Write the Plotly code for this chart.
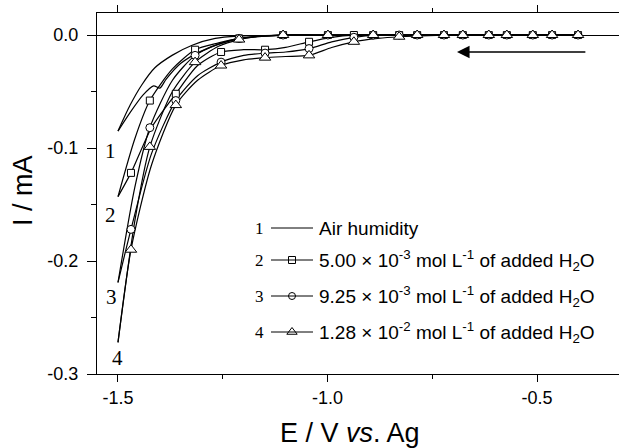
import plotly.graph_objects as go

# ---------------- data ----------------
# marker potentials (V) on cathodic (forward) and anodic (reverse) scans
MARK_FWD = [-0.464, -0.572, -0.677, -0.786, -0.891, -0.999, -1.106, -1.211, -1.316, -1.424]
MARK_REV = [-1.469, -1.362, -1.254, -1.149, -1.044, -0.937, -0.829, -0.722, -0.615, -0.510, -0.402]

# curve 1 : air humidity (no markers)
E1_FWD = [-0.400, -0.600, -0.800, -1.000, -1.100, -1.160, -1.214, -1.268, -1.323, -1.371, -1.412, -1.443, -1.471, -1.500]
I1_FWD = [0, 0, 0, 0, 0, -0.0005, -0.001, -0.003, -0.009, -0.018, -0.029, -0.044, -0.062, -0.085]
E1_REV = [-1.500, -1.470, -1.440, -1.415, -1.400, -1.385, -1.350, -1.300, -1.250, -1.200, -1.150, -1.100, -1.000, -0.800, -0.600, -0.400]
I1_REV = [-0.085, -0.068, -0.053, -0.045, -0.047, -0.039, -0.025, -0.014, -0.007, -0.003, -0.001, 0, 0, 0, 0, 0]

# curves 2-4 forward scan
E_FWD = [-0.400, -0.464, -0.572, -0.677, -0.786, -0.891, -0.999, -1.106, -1.160, -1.211, -1.260, -1.316, -1.370, -1.424, -1.460, -1.500]
I2_FWD = [0, 0, 0, 0, 0, 0, 0, 0, -0.001, -0.003, -0.007, -0.013, -0.030, -0.058, -0.092, -0.143]
I3_FWD = [0, 0, 0, 0, 0, 0, 0, 0, -0.001, -0.003, -0.008, -0.018, -0.040, -0.082, -0.135, -0.219]
I4_FWD = [0, 0, 0, 0, 0, 0, 0, 0, -0.001, -0.004, -0.010, -0.024, -0.050, -0.099, -0.165, -0.272]

# curves 2-4 reverse scan
E_REV = [-1.500, -1.469, -1.420, -1.362, -1.310, -1.254, -1.200, -1.149, -1.100, -1.044, -0.990, -0.937, -0.880, -0.829, -0.722, -0.615, -0.510, -0.402]
I2_REV = [-0.143, -0.122, -0.082, -0.052, -0.027, -0.015, -0.013, -0.013, -0.011, -0.006, -0.002, 0, 0, 0, 0, 0, 0, 0]
I3_REV = [-0.219, -0.172, -0.105, -0.058, -0.036, -0.024, -0.018, -0.016, -0.015, -0.012, -0.006, -0.002, 0, 0, 0, 0, 0, 0]
I4_REV = [-0.272, -0.190, -0.115, -0.062, -0.040, -0.027, -0.022, -0.020, -0.019, -0.018, -0.011, -0.006, -0.003, -0.0015, 0, 0, 0, 0]

CURVE_IDS = ["1", "2", "3", "4"]
LEGEND_LABELS = [
    "Air humidity",
    "5.00 × 10<sup>-3</sup> mol L<sup>-1</sup> of added H<sub>2</sub>O",
    "9.25 × 10<sup>-3</sup> mol L<sup>-1</sup> of added H<sub>2</sub>O",
    "1.28 × 10<sup>-2</sup> mol L<sup>-1</sup> of added H<sub>2</sub>O",
]
X_TITLE = "E / V <i>vs</i>. Ag"
Y_TITLE = "I / mA"
X_TICKS = [-1.5, -1.0, -0.5]
X_TICKTEXT = ["-1.5", "-1.0", "-0.5"]
Y_TICKS = [0.0, -0.1, -0.2, -0.3]
Y_TICKTEXT = ["0.0", "-0.1", "-0.2", "-0.3"]

SANS = "Liberation Sans, Arial, sans-serif"
SERIF = "Liberation Serif, Times New Roman, serif"

fig = go.Figure()

LINE = dict(color="black", width=1.2, shape="spline", smoothing=0.7)

branches = [
    (E1_FWD, I1_FWD, None, 0, []),
    (E1_REV, I1_REV, None, 0, []),
    (E_FWD, I2_FWD, "square", 7, MARK_FWD),
    (E_REV, I2_REV, "square", 7, MARK_REV),
    (E_FWD, I3_FWD, "circle", 8, MARK_FWD),
    (E_REV, I3_REV, "circle", 8, MARK_REV),
    (E_FWD, I4_FWD, "triangle-up", 10, MARK_FWD),
    (E_REV, I4_REV, "triangle-up", 10, MARK_REV),
]

for x, y, sym, sz, marks in branches:
    fig.add_trace(go.Scatter(x=x, y=y, mode="lines", line=LINE,
                             showlegend=False, hoverinfo="skip"))
for x, y, sym, sz, marks in branches:
    if sym is None:
        continue
    mx = [a for a in x if a in marks]
    my = [b for a, b in zip(x, y) if a in marks]
    fig.add_trace(go.Scatter(x=mx, y=my, mode="markers",
                             marker=dict(symbol=sym, size=sz, color="white",
                                         line=dict(color="black", width=1)),
                             showlegend=False, hoverinfo="skip"))

# ---------- legend, drawn on a pixel-like overlay axis ----------
LEG_ROWS = [228, 260, 296, 332]
LEG_SYMBOLS = [(None, 0), ("square", 7), ("circle", 7), ("triangle-up", 9)]
shapes = []
annotations = []
for row, cid, lab, (sym, sz) in zip(LEG_ROWS, CURVE_IDS, LEGEND_LABELS, LEG_SYMBOLS):
    shapes.append(dict(type="line", xref="x2", yref="y2", x0=271, x1=313, y0=row, y1=row,
                       line=dict(color="black", width=1)))
    annotations.append(dict(xref="x2", yref="y2", x=259, y=row, text=cid, showarrow=False,
                            xanchor="center", yanchor="middle",
                            font=dict(family=SERIF, size=17, color="black")))
    annotations.append(dict(xref="x2", yref="y2", x=317, y=row, text=lab, showarrow=False,
                            xanchor="left", yanchor="middle",
                            font=dict(family=SANS, size=19, color="black")))
    if sym:
        fig.add_trace(go.Scatter(x=[292], y=[row], xaxis="x2", yaxis="y2", mode="markers",
                                 marker=dict(symbol=sym, size=sz, color="white",
                                             line=dict(color="black", width=1)),
                                 showlegend=False, hoverinfo="skip"))

# curve numbers near the switching potential
CURVE_LABEL_POS = [(110, 151), (110, 215), (111, 297), (117, 358)]
for (px, py), cid in zip(CURVE_LABEL_POS, CURVE_IDS):
    annotations.append(dict(xref="x2", yref="y2", x=px, y=py, text=cid, showarrow=False,
                            xanchor="center", yanchor="middle",
                            font=dict(family=SERIF, size=21, color="black")))

# axis titles (paper coordinates, may lie outside the plot area)
def px_to_paper(px, py):
    return (px - 97) / 522.0, (374 - py) / 361.0

tx, ty = px_to_paper(350, 433)
annotations.append(dict(xref="paper", yref="paper", x=tx, y=ty, text=X_TITLE,
                        showarrow=False, xanchor="center", yanchor="middle",
                        font=dict(family=SANS, size=27, color="black")))
tx, ty = px_to_paper(23, 191)
annotations.append(dict(xref="paper", yref="paper", x=tx, y=ty, text=Y_TITLE, textangle=-90,
                        showarrow=False, xanchor="center", yanchor="middle",
                        font=dict(family=SANS, size=27, color="black")))

# scan direction arrow
annotations.append(dict(x=-0.691, y=-0.015, ax=-0.381, ay=-0.015, xref="x", yref="y",
                        axref="x", ayref="y", text="", showarrow=True, arrowhead=2,
                        arrowsize=1.8, arrowwidth=1.4, arrowcolor="black"))

fig.update_layout(
    width=619, height=448,
    margin=dict(l=97, r=0, t=13, b=74),
    paper_bgcolor="white", plot_bgcolor="white",
    showlegend=False,
    shapes=shapes, annotations=annotations,
    xaxis=dict(range=[-1.5501, -0.3043], tickvals=X_TICKS, ticktext=X_TICKTEXT,
               ticks="outside", ticklen=7, tickwidth=1, tickcolor="black",
               showline=True, linecolor="black", linewidth=1, mirror="ticks",
               showgrid=False, zeroline=False,
               minor=dict(tickvals=[-1.25, -0.75], ticks="outside", ticklen=4,
                          tickcolor="black", tickwidth=1, showgrid=False),
               tickfont=dict(family=SANS, size=18, color="black")),
    yaxis=dict(range=[-0.3, 0.0195], tickvals=Y_TICKS, ticktext=Y_TICKTEXT,
               ticks="outside", ticklen=9, tickwidth=1, tickcolor="black",
               showline=True, linecolor="black", linewidth=1, mirror=False,
               showgrid=False, zeroline=True, zerolinecolor="black", zerolinewidth=1.2,
               ticklabelstandoff=5,
               minor=dict(tickvals=[-0.05, -0.15, -0.25], ticks="outside", ticklen=5,
                          tickcolor="black", tickwidth=1, showgrid=False),
               tickfont=dict(family=SANS, size=18, color="black")),
    xaxis2=dict(overlaying="x", anchor="y2", range=[97, 619], visible=False),
    yaxis2=dict(overlaying="y", anchor="x2", range=[374, 13], visible=False),
)

fig.write_html("out.html")
